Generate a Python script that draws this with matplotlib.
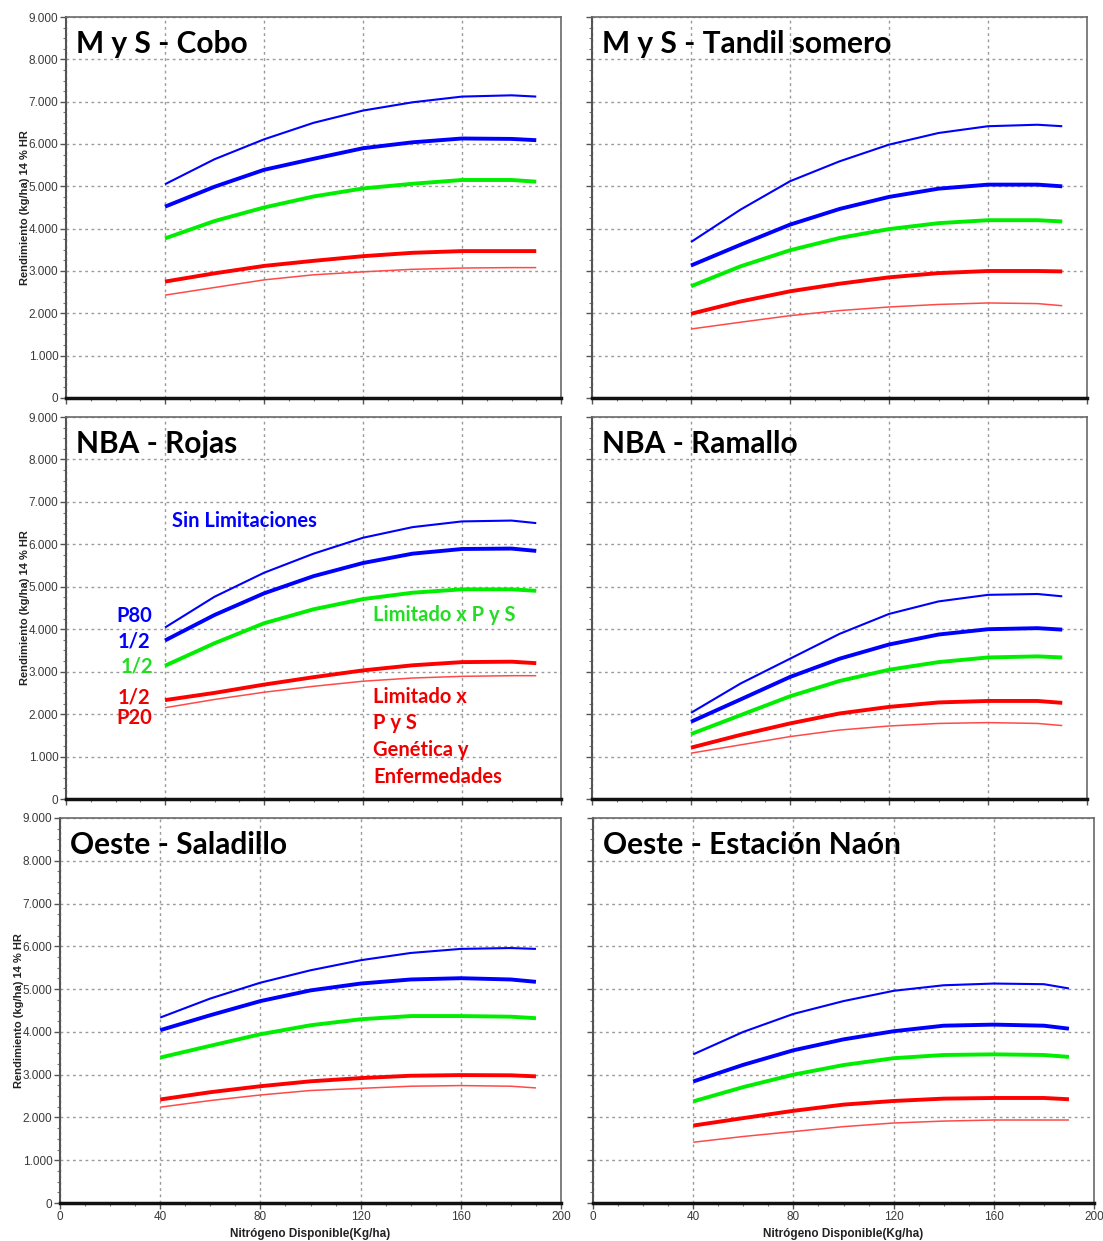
import matplotlib
matplotlib.use('Agg')
import matplotlib.pyplot as plt
from matplotlib.ticker import MultipleLocator, FuncFormatter

# Data (x = available N, y = yield kg/ha)
n_disp = [40, 60, 80, 100, 120, 140, 160, 180, 190]

titles = ['M y S - Cobo', 'M y S - Tandil somero',
          'NBA - Rojas', 'NBA - Ramallo',
          'Oeste - Saladillo', 'Oeste - Estación Naón']

# series per panel: P80 sin limitaciones, 1/2 sin lim., 1/2 limitado P y S, 1/2 limitado gen/enf, P20
cobo_p80 = [5050, 5640, 6110, 6500, 6790, 6985, 7120, 7150, 7120]
cobo_med = [4520, 4990, 5390, 5650, 5900, 6040, 6130, 6120, 6090]
cobo_pys = [3770, 4180, 4500, 4760, 4950, 5060, 5150, 5150, 5110]
cobo_gen = [2750, 2945, 3120, 3240, 3350, 3430, 3470, 3470, 3470]
cobo_p20 = [2430, 2610, 2790, 2910, 2980, 3040, 3070, 3080, 3080]

tandil_p80 = [3685, 4450, 5120, 5590, 5985, 6260, 6420, 6455, 6420]
tandil_med = [3130, 3620, 4095, 4465, 4750, 4945, 5040, 5040, 5000]
tandil_pys = [2640, 3110, 3490, 3780, 3990, 4130, 4200, 4200, 4170]
tandil_gen = [1990, 2280, 2520, 2700, 2850, 2950, 3000, 3000, 2990]
tandil_p20 = [1630, 1790, 1945, 2065, 2150, 2210, 2245, 2230, 2180]

rojas_p80 = [4040, 4765, 5330, 5780, 6155, 6405, 6540, 6560, 6500]
rojas_med = [3735, 4335, 4845, 5250, 5560, 5780, 5890, 5900, 5845]
rojas_pys = [3140, 3670, 4140, 4470, 4710, 4860, 4940, 4940, 4905]
rojas_gen = [2330, 2500, 2695, 2870, 3030, 3150, 3225, 3235, 3200]
rojas_p20 = [2150, 2345, 2515, 2655, 2775, 2850, 2890, 2905, 2905]

ramallo_p80 = [2030, 2720, 3305, 3890, 4360, 4655, 4810, 4830, 4775]
ramallo_med = [1820, 2345, 2875, 3305, 3640, 3875, 4000, 4025, 3990]
ramallo_pys = [1530, 1975, 2420, 2780, 3045, 3225, 3335, 3360, 3335]
ramallo_gen = [1210, 1510, 1780, 2015, 2170, 2275, 2310, 2310, 2265]
ramallo_p20 = [1080, 1275, 1470, 1625, 1720, 1780, 1800, 1780, 1730]

saladillo_p80 = [4335, 4780, 5150, 5440, 5675, 5845, 5940, 5960, 5940]
saladillo_med = [4040, 4390, 4720, 4970, 5130, 5225, 5255, 5225, 5170]
saladillo_pys = [3400, 3675, 3945, 4155, 4295, 4370, 4370, 4355, 4320]
saladillo_gen = [2420, 2590, 2730, 2845, 2920, 2975, 2990, 2985, 2960]
saladillo_p20 = [2240, 2395, 2525, 2630, 2680, 2730, 2745, 2730, 2690]

naon_p80 = [3475, 4000, 4420, 4720, 4960, 5090, 5130, 5115, 5015]
naon_med = [2840, 3230, 3570, 3825, 4015, 4145, 4170, 4145, 4075]
naon_pys = [2375, 2710, 3000, 3225, 3385, 3460, 3475, 3460, 3415]
naon_gen = [1810, 1985, 2155, 2300, 2385, 2440, 2455, 2455, 2425]
naon_p20 = [1420, 1555, 1670, 1785, 1870, 1915, 1940, 1940, 1940]

panels = [
    [cobo_p80, cobo_med, cobo_pys, cobo_gen, cobo_p20],
    [tandil_p80, tandil_med, tandil_pys, tandil_gen, tandil_p20],
    [rojas_p80, rojas_med, rojas_pys, rojas_gen, rojas_p20],
    [ramallo_p80, ramallo_med, ramallo_pys, ramallo_gen, ramallo_p20],
    [saladillo_p80, saladillo_med, saladillo_pys, saladillo_gen, saladillo_p20],
    [naon_p80, naon_med, naon_pys, naon_gen, naon_p20],
]

line_styles = [('#0000ff', 1.5), ('#0000ff', 2.8), ('#00ee00', 2.8), ('#ff0000', 2.8), ('#ff4a4a', 1.1)]

W, H = 1103, 1241
# axes boxes in pixels: left, top, right, bottom
boxes = [(66, 17, 561, 398), (592, 17, 1087, 398),
         (66, 417, 561, 799), (592, 417, 1087, 799),
         (60, 818, 561, 1203), (593, 818, 1094, 1203)]

title_font = 'Lato'
tick_font = 'Liberation Sans'

fig = plt.figure(figsize=(W / 100, H / 100), dpi=100)

for i, (series, box) in enumerate(zip(panels, boxes)):
    l, t, r, b = box
    ax = fig.add_axes([l / W, 1 - b / H, (r - l) / W, (b - t) / H])
    for vals, (col, lw) in zip(series, line_styles):
        ax.plot(n_disp, vals, color=col, lw=lw, solid_capstyle='butt', solid_joinstyle='round')
    ax.set_xlim(0, 200)
    ax.set_ylim(0, 9000)
    ax.xaxis.set_major_locator(MultipleLocator(40))
    ax.xaxis.set_minor_locator(MultipleLocator(10))
    ax.yaxis.set_major_locator(MultipleLocator(1000))
    ax.yaxis.set_minor_locator(MultipleLocator(250))
    ax.grid(True, which='major', color='#9a9a9a', lw=1.0, linestyle=(0, (2, 2.5)))
    ax.tick_params(which='major', length=4, width=1, color='#555555', labelsize=8.5,
                   labelcolor='#3a3a3a', pad=1.5)
    ax.tick_params(which='minor', length=2.5, width=0.8, color='#777777')
    ax.yaxis.set_major_formatter(FuncFormatter(lambda v, _: f'{int(v):,}'.replace(',', '.')))
    for lab in ax.get_xticklabels() + ax.get_yticklabels():
        lab.set_fontfamily(tick_font)
    for s in ['top', 'right']:
        ax.spines[s].set_color('#6a6a6a')
        ax.spines[s].set_linewidth(1.2)
    ax.spines['left'].set_color('#555555')
    ax.spines['left'].set_linewidth(1.5)
    ax.spines['bottom'].set_color('#111111')
    ax.spines['bottom'].set_linewidth(2.5)
    if i % 2 == 1:
        ax.set_yticklabels([])
    else:
        ax.set_ylabel('Rendimiento (kg/ha) 14 % HR', fontsize=8, fontweight='bold',
                      family=tick_font, color='#222222', labelpad=-1)
    if i < 4:
        ax.set_xticklabels([])
    else:
        ax.set_xlabel('Nitrógeno Disponible(Kg/ha)', fontsize=8.5, fontweight='bold',
                      family=tick_font, color='#222222', labelpad=4)
    ax.text(0.02, 0.93, titles[i], transform=ax.transAxes, fontsize=21.5,
            fontweight='bold', family=title_font, va='center', ha='left')

    if i == 2:
        kw = dict(fontsize=14.5, fontweight='bold', family=title_font, va='center')
        ax.text(43, 6550, 'Sin Limitaciones', color='#0000ff', ha='left', **kw)
        ax.text(27.5, 4310, 'P80', color='#0000ff', ha='center', **kw)
        ax.text(27.5, 3720, '1/2', color='#0000ff', ha='center', **kw)
        ax.text(28.5, 3130, '1/2', color='#22dd22', ha='center', **kw)
        ax.text(27.5, 2400, '1/2', color='#ee0000', ha='center', **kw)
        ax.text(27.5, 1910, 'P20', color='#ee0000', ha='center', **kw)
        ax.text(124, 4335, 'Limitado x P y S', color='#22dd22', ha='left', **kw)
        ax.text(124, 2400, 'Limitado x', color='#ee0000', ha='left', **kw)
        ax.text(124, 1790, 'P y S', color='#ee0000', ha='left', **kw)
        ax.text(124, 1150, 'Genética y', color='#ee0000', ha='left', **kw)
        ax.text(124, 520, 'Enfermedades', color='#ee0000', ha='left', **kw)

fig.savefig('out.png', dpi=100)
